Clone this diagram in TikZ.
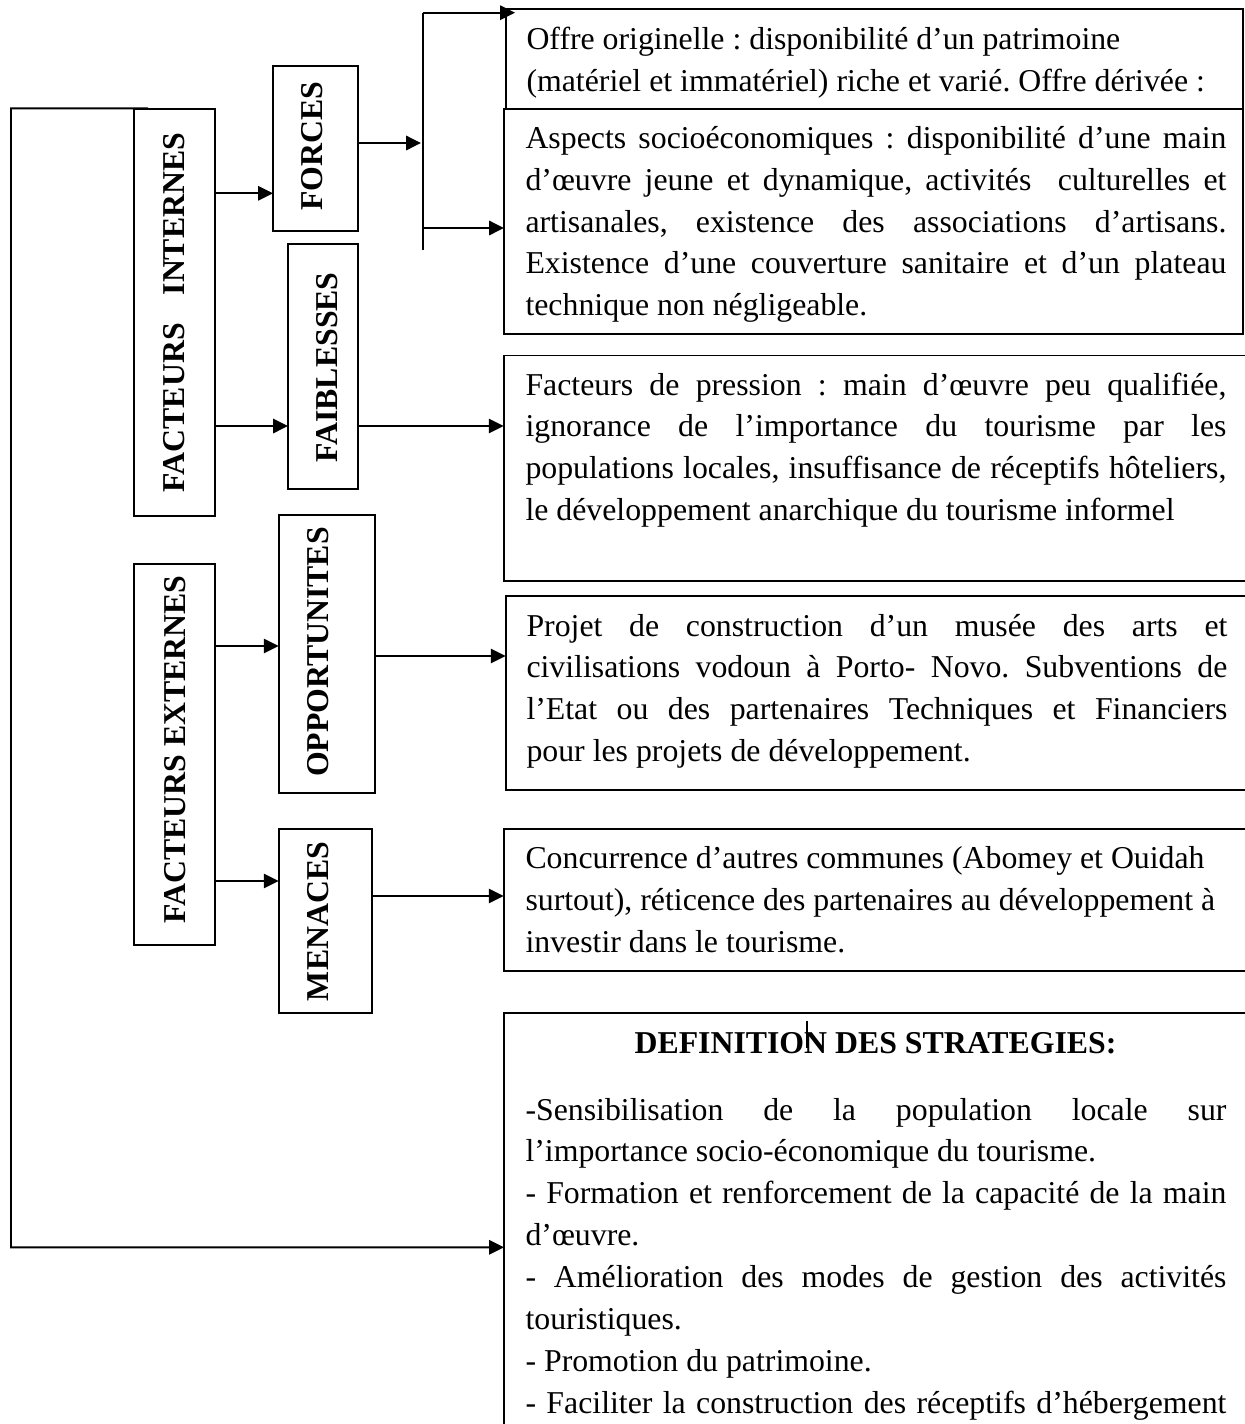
\documentclass[tikz,border=0pt]{standalone}
\usepackage{fontspec}
\setmainfont[Ligatures=NoCommon]{Liberation Serif}
\usetikzlibrary{arrows.meta,calc}
\newlength\tw
\setlength\tw{264.5pt}
\tolerance=9999
\hyphenpenalty=10000
\begin{document}
\frenchspacing
\begin{tikzpicture}[x=0.37736pt,y=-0.37736pt,
  box/.style={draw,line width=0.75pt,inner sep=0pt,outer sep=0pt},
  sz/.style 2 args={minimum width=#1*0.37736pt,minimum height=#2*0.37736pt},
  lbl/.style={rotate=90,inner sep=0pt,font=\fontsize{12}{14}\selectfont\bfseries},
  txt/.style={anchor=base west,inner sep=0pt,text width=\tw,align=justify,font=\fontsize{12}{15.8}\selectfont},
  arr/.style={line width=0.75pt,-{Triangle[length=5.6pt,width=5.4pt]}},
  ln/.style={line width=0.75pt}]
\useasboundingbox (0,0) rectangle (1245,1424);
\fill[white] (0,0) rectangle (1245,1424);
\clip (0,0) rectangle (1245,1424);

% left boxes
\node[box,sz={81}{407}] (fi) at (174.5,312.5) {};
\node[box,sz={85}{165}] (forces) at (315.5,148.5) {};
\node[box,sz={70}{245}] (faib) at (323,366.5) {};
\node[box,sz={81}{381}] (fe) at (174.5,754.5) {};
\node[box,sz={96.4}{278}] (opp) at (326.8,654) {};
\node[box,sz={93.4}{184.4}] (men) at (325.3,920.8) {};

\node[lbl] (fiL) at (174,312.5) {FACTEURS\hspace{0.88em}INTERNES};
\node[lbl] (forL) at (312.5,146) {FORCES};
\node[lbl] (faibL) at (327,367.5) {FAIBLESSES};
\node[lbl] (feL) at (175,749.5) {FACTEURS EXTERNES};
\node[lbl] (oppL) at (318,652) {OPPORTUNITES};
\node[lbl] (menL) at (318,921.5) {MENACES};

% right boxes
\node[box,sz={737.3}{99.4}] (offre) at (874.35,59) {};
\node[box,sz={739}{225.3}] (aspects) at (873.5,221.35) {};
\node[box,sz={766.3}{225.3}] (press) at (886.85,468.15) {};
\node[box,sz={764.3}{194}] (projet) at (887.85,693) {};
\node[box,sz={766.3}{142}] (conc) at (886.85,899.6) {};
\node[box,sz={766}{436.7}] (def) at (887,1231.65) {};

% texts
\node[txt] (offreT) at (526,49.3) {Offre originelle : disponibilité d’un patrimoine\\(matériel et immatériel) riche et varié. Offre dérivée :};
\node[txt] (aspT) at (525,148.3) {Aspects socioéconomiques : disponibilité d’une main\linebreak d’œuvre jeune et dynamique, activités~ culturelles et\linebreak artisanales, existence des associations d’artisans.\linebreak Existence d’une couverture sanitaire et d’un plateau\linebreak technique non négligeable.};
\node[txt] (pressT) at (525,395) {Facteurs de pression : main d’œuvre peu qualifiée,\linebreak ignorance de l’importance du tourisme par les\linebreak populations locales, insuffisance de réceptifs hôteliers,\linebreak le développement anarchique du tourisme informel};
\node[txt] (projT) at (526,636) {Projet de construction d’un musée des arts et\linebreak civilisations vodoun à Porto- Novo. Subventions de\linebreak l’Etat ou des partenaires Techniques et Financiers\linebreak pour les projets de développement.};
\node[txt] (concT) at (525,868.6) {Concurrence d’autres communes (Abomey et Ouidah\\surtout), réticence des partenaires au développement à\\investir dans le tourisme.};
\node[anchor=base,inner sep=0pt,font=\fontsize{12}{14}\selectfont\bfseries] (defT) at (875.5,1053.3) {DEFINITION DES STRATEGIES:};
\node[txt] (defB) at (525,1120) {-Sensibilisation de la population locale sur\linebreak l’importance socio-économique du tourisme.\\- Formation et renforcement de la capacité de la main\linebreak d’œuvre.\\- Amélioration des modes de gestion des activités\linebreak touristiques.\\- Promotion du patrimoine.\\- Faciliter la construction des réceptifs d’hébergement\linebreak\mbox{}};

% coordinates
\coordinate (vt) at (423,12.7);
\coordinate (vb) at (423,250);
\coordinate (vm) at (423,228);
\coordinate (sp) at (421,143);
\coordinate (y1) at (0,193.3);
\coordinate (y2) at (0,426);
\coordinate (y3) at (0,646);
\coordinate (y4) at (0,881);
\coordinate (y5) at (0,656);
\coordinate (y6) at (0,896);
\coordinate (fbT) at (11,108.3);
\coordinate (fbB) at (11,1247.3);
\coordinate (tk1) at (807,1020.7);
\coordinate (tk2) at (807,1048);

% connectors
\draw[ln] (vt) -- (vb);
\draw[arr] (forces.east |- sp) -- (sp);
\draw[arr] (vt) -- ($(offre.west |- vt)+(9.3,0)$);
\draw[arr] (vm) -- (aspects.west |- vm);
\draw[arr] (fi.east |- y1) -- (forces.west |- y1);
\draw[arr] (fi.east |- y2) -- (faib.west |- y2);
\draw[arr] (faib.east |- y2) -- (press.west |- y2);
\draw[arr] (fe.east |- y3) -- (opp.west |- y3);
\draw[arr] (fe.east |- y4) -- (men.west |- y4);
\draw[arr] (opp.east |- y5) -- (projet.west |- y5);
\draw[arr] (men.east |- y6) -- (conc.west |- y6);
\draw[arr] ($(fi.north west)+(14,-0.7)$) -- (fbT) -- (fbB) -- (def.west |- fbB);
\draw[line width=0.4pt] (tk1) -- (tk2);
\end{tikzpicture}
\end{document}
